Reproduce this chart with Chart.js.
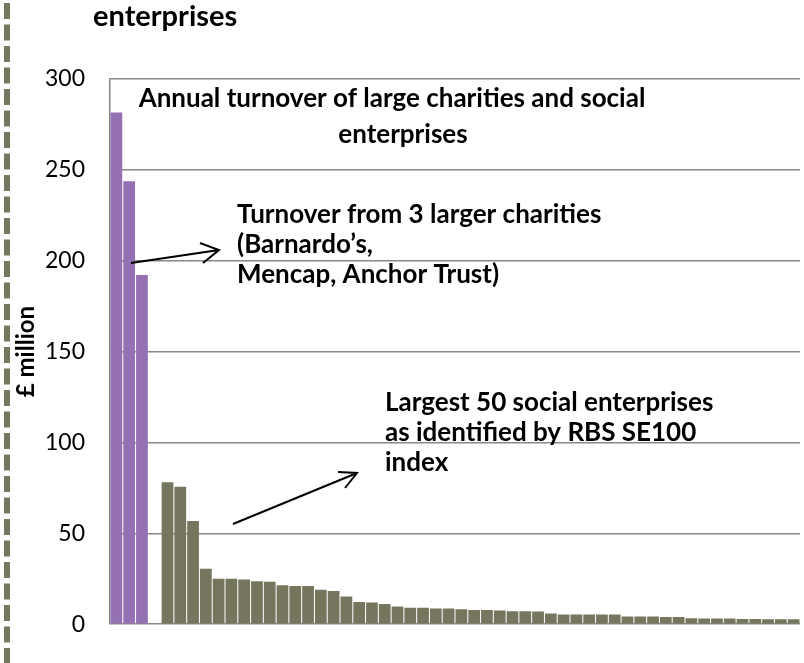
<!DOCTYPE html>
<html>
<head>
<meta charset="utf-8">
<script src="https://cdn.jsdelivr.net/npm/chart.js@4/dist/chart.umd.min.js"></script>
<style>
  body { margin: 0; background: #fff; }
  #wrap { width: 804px; height: 663px; }
</style>
</head>
<body>
<div id="wrap"><canvas id="turnoverChart" width="804" height="663"></canvas></div>
<script>
// Turnover (¬£ million) of the three large charities, largest first
const charityNames = ["Barnardo's", "Mencap", "Anchor Trust"];
const charityTurnover = [281.5, 243.7, 192.2];

// Turnover (¬£ million) of the 50 largest social enterprises (RBS SE100)
const enterpriseTurnover = [
  78.1, 75.7, 56.8, 30.5, 25.0, 25.0, 24.6, 23.7, 23.4, 21.5,
  21.0, 21.0, 19.0, 18.2, 15.3, 12.2, 11.9, 11.1, 9.7, 9.1,
  9.1, 8.6, 8.6, 8.2, 7.8, 7.8, 7.5, 7.1, 7.1, 7.0,
  5.9, 5.4, 5.4, 5.4, 5.4, 5.3, 4.2, 4.2, 4.2, 3.9,
  3.9, 3.3, 3.1, 3.1, 3.1, 2.8, 2.8, 2.7, 2.7, 2.7
];

const yTicks = [0, 50, 100, 150, 200, 250, 300];

const PURPLE = "#9570b3";
const OLIVE = "#76765f";

// one empty slot separates the two groups
const labels = [...charityNames, "", ...enterpriseTurnover.map((_, i) => "SE " + (i + 1))];
const values = [...charityTurnover, null, ...enterpriseTurnover];
const colors = labels.map((_, i) => (i < charityTurnover.length ? PURPLE : OLIVE));

const FONT = "Lato, 'Open Sans', sans-serif";

function arrow(ctx, x1, y1, x2, y2, h1, h2) {
  ctx.beginPath();
  ctx.moveTo(x1, y1);
  ctx.lineTo(x2, y2);
  ctx.moveTo(h1[0], h1[1]);
  ctx.lineTo(x2, y2);
  ctx.lineTo(h2[0], h2[1]);
  ctx.stroke();
}

// Page edge, headings, notes and arrows
const decorations = {
  id: "decorations",
  beforeDraw(chart) {
    const ctx = chart.ctx;
    ctx.save();
    ctx.strokeStyle = "#77775f";
    ctx.lineWidth = 6;
    ctx.setLineDash([16, 5.5]);
    ctx.beginPath();
    ctx.moveTo(7, 3);
    ctx.lineTo(7, 663);
    ctx.stroke();
    ctx.restore();
  },
  afterDraw(chart) {
    const ctx = chart.ctx;
    ctx.save();
    ctx.fillStyle = "#000";
    ctx.textBaseline = "alphabetic";

    ctx.textAlign = "left";
    ctx.font = "bold 29px " + FONT;
    ctx.fillText("enterprises", 93, 26);

    // chart heading
    ctx.textAlign = "center";
    ctx.font = "bold 26px " + FONT;
    ctx.fillText("Annual turnover of large charities and social", 392, 107);
    ctx.fillText("enterprises", 403, 143);

    ctx.textAlign = "left";
    ctx.fillText("Turnover from 3 larger charities", 237, 223);
    ctx.fillText("(Barnardo\u2019s,", 237, 253);
    ctx.fillText("Mencap, Anchor Trust)", 237, 283);

    ctx.fillText("Largest 50 social enterprises", 385, 411);
    ctx.fillText("as identified by RBS SE100", 385, 441);
    ctx.fillText("index", 385, 471);

    ctx.strokeStyle = "#000";
    ctx.lineWidth = 2;
    arrow(ctx, 131, 263, 219, 250, [200, 243], [203, 263]);
    arrow(ctx, 233, 524, 357, 473, [338, 472], [345, 488]);
    ctx.restore();
  }
};

new Chart(document.getElementById("turnoverChart"), {
  type: "bar",
  data: {
    labels,
    datasets: [{
      label: "Annual turnover",
      data: values,
      backgroundColor: colors,
      borderWidth: 0,
      barPercentage: 0.92,
      categoryPercentage: 1
    }]
  },
  options: {
    responsive: false,
    animation: false,
    layout: { padding: { left: 0, top: 79, right: 4, bottom: 38 } },
    plugins: {
      legend: { display: false },
      tooltip: { enabled: false }
    },
    scales: {
      x: { display: false },
      y: {
        min: 0,
        max: 300,
        afterBuildTicks: scale => { scale.ticks = yTicks.map(v => ({ value: v })); },
        afterFit: scale => { scale.width = 110; },
        ticks: {
          padding: 25,
          color: "#000",
          font: { family: FONT, size: 23 }
        },
        grid: { color: "#888", lineWidth: 1.5, drawTicks: false },
        border: { color: "#888", width: 1.5 },
        title: {
          display: true,
          text: "\u00a3 million",
          color: "#000",
          padding: { top: 12, bottom: 0 },
          font: { family: FONT, size: 24, weight: "bold" }
        }
      }
    }
  },
  plugins: [decorations]
});
</script>
</body>
</html>
